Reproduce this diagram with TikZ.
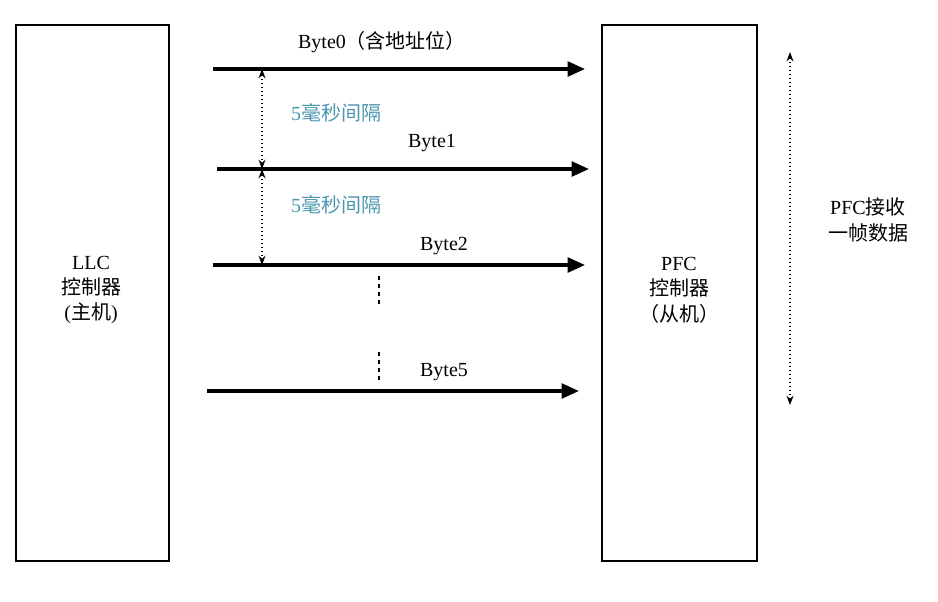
\documentclass[tikz,border=0pt]{standalone}
\usepackage{fontspec}
\setmainfont{Liberation Serif}
\newfontfamily\cjk{Noto Sans CJK SC}
\usetikzlibrary{arrows.meta}
\tikzset{
  box/.style={draw, line width=1.5pt, anchor=north west, inner sep=0pt},
  byte/.style={-{Triangle[length=13pt,width=11pt]}, line width=2.6pt},
  gap/.style={{Stealth[length=7pt]}-{Stealth[length=7pt]}, dotted, line width=1pt},
  lbl/.style={font=\fontsize{15}{19}\selectfont, align=center},
}
\definecolor{gapcol}{RGB}{75,150,175}
\begin{document}
\begin{tikzpicture}[x=0.75pt, y=-0.75pt]
\useasboundingbox (0,0) rectangle (938,601);
% controllers
\node[box, minimum width=153*0.75pt, minimum height=536*0.75pt] (llc) at (15,24) {};
\node[box, minimum width=155*0.75pt, minimum height=536*0.75pt] (pfc) at (601,24) {};
\node[lbl] at (91,290) {LLC\\{\cjk 控制器}\\({\cjk 主机})};
\node[lbl] at (679,290) {PFC\\{\cjk 控制器}\\{\cjk （从机）}};
% bytes
\coordinate (b0s) at (213,69);  \coordinate (b0e) at (585,69);
\coordinate (b1s) at (217,169); \coordinate (b1e) at (589,169);
\coordinate (b2s) at (213,265); \coordinate (b2e) at (585,265);
\coordinate (b5s) at (207,391); \coordinate (b5e) at (579,391);
\draw[byte] (b0s) -- (b0e);
\draw[byte] (b1s) -- (b1e);
\draw[byte] (b2s) -- (b2e);
\draw[byte] (b5s) -- (b5e);
\node[lbl] (t0) at (382,42) {Byte0{\cjk （含地址位）}};
\node[lbl] (t1) at (432,143) {Byte1};
\node[lbl] (t2) at (444,246) {Byte2};
\node[lbl] (t5) at (444,372) {Byte5};
% gaps
\coordinate (g0) at (262,69); \coordinate (g1) at (262,169); \coordinate (g2) at (262,265);
\draw[gap] (g0) -- (g1);
\draw[gap] (g1) -- (g2);
\node[lbl, text=gapcol] (d1) at (336,113) {5{\cjk 毫秒间隔}};
\node[lbl, text=gapcol] (d2) at (336,205) {5{\cjk 毫秒间隔}};
\draw[dashed, line width=1pt, dash pattern=on 3pt off 3pt] (379,276) -- (379,305);
\draw[dashed, line width=1pt, dash pattern=on 3pt off 3pt] (379,352) -- (379,383);
% frame
\coordinate (f0) at (790,52); \coordinate (f1) at (790,405);
\draw[gap] (f0) -- (f1);
\node[lbl] (fr) at (868,220) {PFC{\cjk 接收}\\{\cjk 一帧数据}};
\end{tikzpicture}
\end{document}
